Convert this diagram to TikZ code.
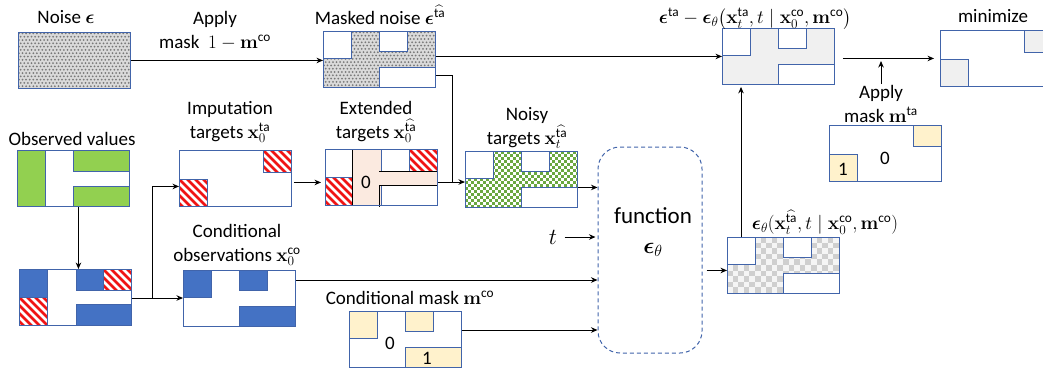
\RequirePackage{fix-cm}
\documentclass[tikz,border=0pt]{standalone}
\usepackage{amsmath}
\usepackage[no-math]{fontspec}
\setmainfont{Carlito}
\usetikzlibrary{arrows.meta,calc}

\definecolor{boxblue}{RGB}{65,100,170}
\definecolor{cellblue}{RGB}{68,114,196}
\definecolor{obsgreen}{RGB}{146,208,80}
\definecolor{chkgreen}{RGB}{106,168,64}
\definecolor{maskyellow}{RGB}{255,242,204}
\definecolor{errgray}{RGB}{240,240,240}
\definecolor{peach}{RGB}{251,234,224}
\definecolor{stripered}{RGB}{240,20,20}
\definecolor{noisebg}{RGB}{218,218,218}
\definecolor{noisedot}{RGB}{120,120,120}

\newcommand\veps{\boldsymbol{\epsilon}}
\newcommand\vx{\mathbf{x}}
\newcommand\vm{\mathbf{m}}
\newcommand\supta{\text{ta}}
\newcommand\supco{\text{co}}
\newcommand\suphat{\widehat{\text{ta}}}
\newcommand\lblfont{\fontsize{19}{24}\selectfont}
\newcommand\bigfont{\fontsize{23}{30}\selectfont}

\tikzset{
  mbox/.style={draw=boxblue, line width=0.9pt, minimum width=112pt,
    minimum height=56pt, inner sep=0pt, anchor=north west},
  cellb/.style={draw=boxblue, line width=0.9pt},
  lbl/.style={font=\lblfont, align=center, inner sep=1pt},
  arr/.style={-{Stealth[length=6.5pt,width=5.5pt]}, line width=1pt},
  wire/.style={line width=1pt},
}

% three cells: top-left, top-middle, bottom-right
\newcommand\abccells[2]{%
  \begin{scope}[shift={(#1.north west)}]
    \draw[cellb, fill=#2] (0,0) rectangle (28,27);
    \draw[cellb, fill=#2] (56,0) rectangle (84,20);
    \draw[cellb, fill=#2] (56,36) rectangle (112,56);
  \end{scope}}

% red/white hatched cell in the current scope
\newcommand\stripecell[4]{%
  \begin{scope}
    \clip (#1,#2) rectangle (#3,#4);
    \fill[white] (#1,#2) rectangle (#3,#4);
    \foreach \k in {-48,-40,...,40}{
      \draw[stripered, line width=2.7pt] ({#1+(\k)},#2) -- ++(50,50);}
  \end{scope}
  \draw[cellb] (#1,#2) rectangle (#3,#4);}

% checkerboard inside a box
\newcommand\checkerfill[5]{%
  \begin{scope}[shift={(#1.north west)}]
    \clip (0,0) rectangle (112,56);
    \foreach \i in {0,...,#3}{\foreach \j in {0,...,#4}{
      \pgfmathtruncatemacro\chkpar{mod(\i+\j,2)}
      \ifnum\chkpar=0 \fill[#5] ({\i*#2},{\j*#2}) rectangle ++(#2,#2);\fi}}
  \end{scope}}

% staggered grey dots for the noise texture
\newcommand\noisedots[1]{%
  \begin{scope}[shift={(#1.north west)}]
    \clip (0,0) rectangle (112,56);
    \fill[noisebg] (0,0) rectangle (112,56);
    \foreach \j in {0,...,17}{\foreach \i in {0,...,31}{
      \pgfmathsetmacro\dx{mod(\j,2)*1.8}
      \fill[noisedot] ({\i*3.6+\dx+0.9},{\j*3.3+1.4}) circle (1.0);}}
  \end{scope}}

\newcommand\reborder[1]{\draw[cellb] (#1.north west) rectangle (#1.south east);}

\begin{document}
\begin{tikzpicture}[x=1pt, y=-1pt]
\useasboundingbox (0,0) rectangle (1043,375);
\clip (0,0) rectangle (1043,375);

% ---------- top row ----------
\node[mbox] (noise) at (18,32) {};
\noisedots{noise}
\reborder{noise}
\node[lbl] (noiselbl) at (66,17) {Noise $\veps$};

\node[lbl] (applyco) at (215,31) {Apply\\mask\ \ $1-\vm^{\supco}$};

\node[mbox] (masked) at (323,31) {};
\noisedots{masked}
\abccells{masked}{white}
\reborder{masked}
\node[lbl] (maskedlbl) at (380,15) {Masked noise $\veps^{\suphat}$};

\node[mbox, fill=errgray] (diff) at (722,28) {};
\abccells{diff}{white}
\node[lbl] (difflbl) at (755,19)
  {$\veps^{\supta}-\veps_\theta\bigl(\vx_t^{\supta},t\mid\vx_0^{\supco},\vm^{\supco}\bigr)$};

\node[mbox, fill=white] (minbox) at (940,30) {};
\begin{scope}[shift={(minbox.north west)}]
  \draw[cellb, fill=errgray] (84,0) rectangle (112,22);
  \draw[cellb, fill=errgray] (0,29) rectangle (28,56);
\end{scope}
\node[lbl] (minlbl) at (993,16) {minimize};

% ---------- observed values ----------
\node[mbox, fill=white] (obs) at (17,150) {};
\begin{scope}[shift={(obs.north west)}]
  \draw[cellb, fill=obsgreen] (0,0) rectangle (28,56);
  \draw[cellb, fill=obsgreen] (56,0) rectangle (112,21);
  \draw[cellb, fill=obsgreen] (56,36) rectangle (112,56);
\end{scope}
\node[lbl] (obslbl) at (72,139) {Observed values};

\node[mbox, fill=white] (comb) at (19,269) {};
\begin{scope}[shift={(comb.north west)}]
  \draw[cellb, fill=cellblue] (0,0) rectangle (28,28);
  \stripecell{0}{28}{28}{56}
  \draw[cellb, fill=cellblue] (57,0) rectangle (84,21);
  \stripecell{84}{0}{112}{21}
  \draw[cellb, fill=cellblue] (57,35) rectangle (112,56);
\end{scope}

% ---------- imputation targets ----------
\node[mbox, fill=white] (imp) at (179,150) {};
\begin{scope}[shift={(imp.north west)}]
  \stripecell{84}{0}{112}{22}
  \stripecell{0}{29}{28}{56}
\end{scope}
\node[lbl] (implbl) at (230,122) {Imputation\\targets $\vx_0^{\supta}$};

% ---------- extended targets ----------
\node[mbox, fill=peach] (ext) at (325,149) {};
\begin{scope}[shift={(ext.north west)}]
  \draw[cellb, fill=white] (0,0) rectangle (27,28);
  \stripecell{0}{28}{27}{56}
  \draw[cellb, fill=white] (56,0) rectangle (84,22);
  \stripecell{84}{0}{112}{22}
  \draw[cellb, fill=white] (56,36) rectangle (112,56);
  \draw[line width=0.8pt] (27,0) -- (27,56);
  \draw[line width=0.8pt] (54,22) -- (112,22);
  \draw[line width=0.8pt] (54,36) -- (112,36);
  \draw[line width=0.8pt] (54,36) -- (54,58);
  \node[font=\lblfont] (extzero) at (41,33) {0};
\end{scope}
\reborder{ext}
\node[lbl] (extlbl) at (376,122) {Extended\\targets $\vx_0^{\suphat}$};

% ---------- noisy targets ----------
\node[mbox, fill=white] (noisy) at (465,151) {};
\checkerfill{noisy}{3}{37}{18}{chkgreen}
\abccells{noisy}{white}
\reborder{noisy}
\node[lbl] (noisylbl) at (527,128) {Noisy\\targets $\vx_t^{\suphat}$};

% ---------- conditional observations and mask ----------
\node[mbox, fill=white] (cobs) at (183,270) {};
\abccells{cobs}{cellblue}
\node[lbl] (cobslbl) at (237,245) {Conditional\\observations $\vx_0^{\supco}$};

\node[mbox, fill=white] (cmask) at (349,311) {};
\abccells{cmask}{maskyellow}
\begin{scope}[shift={(cmask.north west)}]
  \node[font=\lblfont] (cmzero) at (41,32) {0};
  \node[font=\lblfont] (cmone) at (78,47) {1};
\end{scope}
\node[lbl] (cmasklbl) at (410,298) {Conditional mask $\vm^{\supco}$};

% ---------- denoising function ----------
\node[draw=boxblue, line width=1pt, dash pattern=on 4pt off 3pt,
  rounded corners=22pt, minimum width=104pt, minimum height=206pt]
  (func) at (650,250) {};
\node[font=\bigfont, align=center] (functext) at (653,232)
  {function\\$\veps_\theta$};
\node[font=\bigfont] (tlab) at (553,237) {$t$};

% ---------- network output ----------
\node[mbox, fill=gray!8] (out) at (727,237) {};
\checkerfill{out}{5.6}{19}{9}{gray!38}
\abccells{out}{white}
\reborder{out}
\node[lbl] (outlbl) at (825,222)
  {$\veps_\theta(\vx_t^{\suphat},t\mid\vx_0^{\supco},\vm^{\supco})$};

% ---------- target mask ----------
\node[mbox, fill=white] (mta) at (829,125) {};
\begin{scope}[shift={(mta.north west)}]
  \draw[cellb, fill=maskyellow] (84,0) rectangle (112,21);
  \draw[cellb, fill=maskyellow] (0,29) rectangle (28,56);
  \node[font=\lblfont] (mtaone) at (14,44) {1};
  \node[font=\lblfont] (mtazero) at (56,33) {0};
\end{scope}
\node[lbl] (applyta) at (881,104) {Apply\\mask $\vm^{\supta}$};

% ---------- connectors ----------
\coordinate (j1) at (452,182);
\coordinate (j2) at (152,298);
\coordinate (tain) at (881,61);

\draw[arr] (noise.east) -- (noise.east -| masked.west);
\draw[arr] (masked.east |- diff.west) -- (diff.west);
\draw[wire] ([yshift=-16pt]masked.east) -| (j1);
\draw[arr] (ext.east |- j1) -- (j1 -| noisy.west);

\draw[arr] ([xshift=5pt]obs.south) -- ([xshift=5pt]obs.south |- comb.north);
\draw[wire] (comb.east |- j2) -- (j2);
\draw[arr] (j2) |- ([yshift=-8pt]imp.west);
\draw[arr] (j2) -- (j2 -| cobs.west);
\draw[arr, shorten <=2pt, shorten >=4pt] ([yshift=-4pt]imp.east) -- ([yshift=-4pt]imp.east -| ext.west);

\draw[arr] ([yshift=-8pt]noisy.east) -- ([yshift=-8pt]noisy.east -| func.west);
\draw[arr, shorten <=4pt, shorten >=2pt] (tlab.east) -- (tlab.east -| func.west);
\draw[arr] ([yshift=-10pt]cobs.north east) -- ([yshift=-10pt]cobs.north east -| func.west);
\draw[arr] ([yshift=-19pt]cmask.north east) -- ([yshift=-19pt]cmask.north east -| func.west);

\draw[arr, shorten <=4pt] ([yshift=-5pt]out.west -| func.east) -- ([yshift=-5pt]out.west);
\draw[arr, shorten >=2pt] ([xshift=14pt]out.north west) -- ([xshift=14pt]out.north west |- diff.south);
\draw[arr, shorten <=8pt, shorten >=6pt] ([yshift=-2pt]diff.east) -- ([yshift=-2pt]diff.east -| minbox.west);
\draw[arr] (applyta.north) -- (tain);
\end{tikzpicture}
\end{document}
